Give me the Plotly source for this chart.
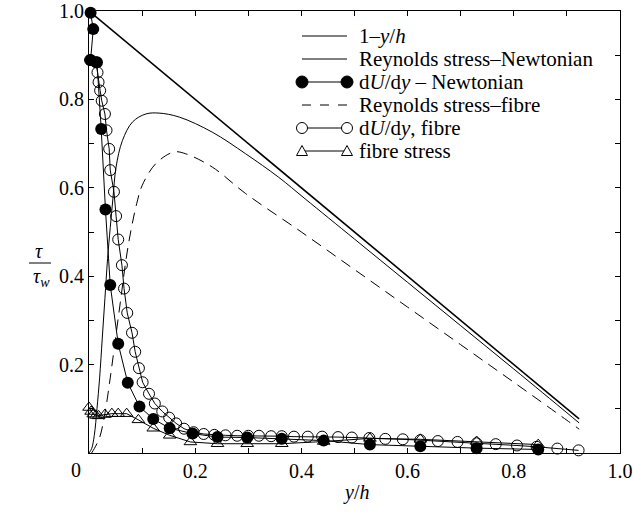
import plotly.graph_objects as go

# ---------------- data ----------------
line_x = [0.0, 0.923]
line_y = [1.0, 0.077]

rs_newt_x = [0.0, 0.005, 0.010, 0.015, 0.020, 0.025, 0.030, 0.035, 0.040, 0.045, 0.051, 0.063,
             0.082, 0.107, 0.132, 0.170, 0.232, 0.295, 0.357, 0.407, 0.500, 0.600, 0.700,
             0.800, 0.900, 0.923]
rs_newt_y = [0.0, 0.010, 0.040, 0.100, 0.170, 0.260, 0.350, 0.440, 0.510, 0.575, 0.647, 0.707,
             0.749, 0.767, 0.769, 0.760, 0.726, 0.677, 0.624, 0.575, 0.484, 0.386, 0.288,
             0.190, 0.091, 0.068]

rs_fib_x = [0.005, 0.010, 0.020, 0.030, 0.040, 0.050, 0.060, 0.070, 0.080, 0.090, 0.100, 0.126,
            0.160, 0.182, 0.232, 0.295, 0.400, 0.500, 0.600, 0.700, 0.800, 0.900, 0.923]
rs_fib_y = [0.0, 0.010, 0.035, 0.090, 0.170, 0.260, 0.350, 0.440, 0.510, 0.565, 0.605, 0.655,
            0.681, 0.677, 0.647, 0.587, 0.500, 0.415, 0.330, 0.245, 0.160, 0.074, 0.054]

dudy_newt_x = [0.003, 0.008, 0.003, 0.015, 0.023, 0.031, 0.040, 0.055, 0.073, 0.095, 0.121,
               0.152, 0.195, 0.242, 0.298, 0.363, 0.442, 0.529, 0.624, 0.730, 0.846]
dudy_newt_y = [0.996, 0.959, 0.889, 0.884, 0.733, 0.551, 0.380, 0.247, 0.159, 0.105, 0.077,
               0.056, 0.044, 0.036, 0.035, 0.032, 0.028, 0.019, 0.015, 0.011, 0.008]

dudy_fib_x = [0.002, 0.013, 0.016, 0.018, 0.021, 0.024, 0.030, 0.033, 0.038, 0.040, 0.047,
              0.051, 0.055, 0.062, 0.066, 0.072, 0.081, 0.087, 0.094, 0.101, 0.113, 0.124,
              0.138, 0.151, 0.164, 0.179, 0.197, 0.216, 0.236, 0.257, 0.279, 0.300, 0.320,
              0.343, 0.363, 0.386, 0.412, 0.439, 0.469, 0.495, 0.528, 0.558, 0.591, 0.624,
              0.657, 0.694, 0.730, 0.766, 0.806, 0.843, 0.882, 0.922]
dudy_fib_y = [0.889, 0.884, 0.861, 0.839, 0.820, 0.797, 0.767, 0.730, 0.688, 0.640, 0.591,
              0.536, 0.483, 0.425, 0.372, 0.317, 0.272, 0.229, 0.192, 0.160, 0.134, 0.112,
              0.094, 0.080, 0.067, 0.055, 0.047, 0.043, 0.041, 0.040, 0.039, 0.039, 0.039,
              0.038, 0.038, 0.037, 0.037, 0.037, 0.036, 0.035, 0.034, 0.032, 0.031, 0.029,
              0.027, 0.025, 0.022, 0.020, 0.017, 0.014, 0.010, 0.006]

fib_stress_x = [0.0, 0.004, 0.008, 0.013, 0.018, 0.030, 0.043, 0.055, 0.071, 0.093, 0.121,
                0.152, 0.191, 0.242, 0.298, 0.363, 0.442, 0.529, 0.624, 0.730, 0.846]
fib_stress_y = [0.103, 0.094, 0.088, 0.085, 0.084, 0.087, 0.089, 0.089, 0.089, 0.075, 0.056,
                0.040, 0.025, 0.021, 0.021, 0.021, 0.026, 0.033, 0.031, 0.026, 0.019]

tick_vals = [0.2, 0.4, 0.6, 0.8, 1.0]
tick_text = ["0.2", "0.4", "0.6", "0.8", "1.0"]
minor_tick_vals = [0.1, 0.3, 0.5, 0.7, 0.9]

legend_labels = ["1–<i>y</i>/<i>h</i>", "Reynolds stress–Newtonian",
                 "d<i>U</i>/d<i>y</i> – Newtonian", "Reynolds stress–fibre",
                 "d<i>U</i>/d<i>y</i>, fibre", "fibre stress"]

# ---------------- figure ----------------
FONT = "Liberation Serif"
W, H = 633, 514
ML, MR, MT, MB = 89, 13, 11, 61
PW, PH = W - ML - MR, H - MT - MB

def px(xp):
    return (xp - ML) / PW

def py(yp):
    return (H - MB - yp) / PH

fig = go.Figure()
fig.add_trace(go.Scatter(x=line_x, y=line_y, mode="lines",
                         line=dict(color="black", width=1.6)))
fig.add_trace(go.Scatter(x=rs_newt_x, y=rs_newt_y, mode="lines",
                         line=dict(color="black", width=1), line_shape="spline"))
fig.add_trace(go.Scatter(x=rs_fib_x, y=rs_fib_y, mode="lines",
                         line=dict(color="black", width=1, dash="11px,7px"), line_shape="spline"))
fig.add_trace(go.Scatter(x=fib_stress_x, y=fib_stress_y, mode="lines+markers", cliponaxis=False,
                         line=dict(color="black", width=1),
                         marker=dict(symbol="triangle-up-open", size=11, color="black",
                                     line=dict(width=1, color="black"))))
fig.add_trace(go.Scatter(x=dudy_fib_x, y=dudy_fib_y, mode="lines+markers", cliponaxis=False,
                         line=dict(color="black", width=1),
                         marker=dict(symbol="circle-open", size=11, color="black",
                                     line=dict(width=1, color="black"))))
fig.add_trace(go.Scatter(x=dudy_newt_x, y=dudy_newt_y, mode="lines+markers", cliponaxis=False,
                         line=dict(color="black", width=1),
                         marker=dict(symbol="circle", size=12, color="black")))

axis_common = dict(range=[0, 1], showgrid=False, zeroline=False, showline=True,
                   linecolor="black", linewidth=1, mirror="ticks", ticks="inside",
                   ticklen=5, tickwidth=1, tickcolor="black", tickvals=tick_vals,
                   ticktext=tick_text, ticklabeloverflow="allow", automargin=False,
                   tickfont=dict(family=FONT, size=20, color="black"),
                   minor=dict(tickvals=minor_tick_vals, ticks="inside", ticklen=5,
                              tickwidth=1, tickcolor="black", showgrid=False))
fig.update_xaxes(**axis_common)
fig.update_yaxes(**axis_common)

shapes = []
annotations = []
# custom legend
row_y = [36, 59, 82, 105, 128, 151]
lx0, lx1, tx = 302, 347, 357
kinds = ["solid", "solid", "filled", "dash", "open", "tri"]
for ry, kind, lab in zip(row_y, kinds, legend_labels):
    y = py(ry)
    shapes.append(dict(type="line", xref="paper", yref="paper", x0=px(lx0), x1=px(lx1),
                       y0=y, y1=y,
                       line=dict(color="black", width=1,
                                 dash="dash" if kind == "dash" else "solid")))
    for mx in (lx0, lx1):
        if kind == "filled":
            shapes.append(dict(type="circle", xref="paper", yref="paper",
                               xsizemode="pixel", ysizemode="pixel",
                               xanchor=px(mx), yanchor=y, x0=-6, x1=6, y0=-6, y1=6,
                               fillcolor="black", line=dict(color="black", width=1)))
        elif kind == "open":
            shapes.append(dict(type="circle", xref="paper", yref="paper",
                               xsizemode="pixel", ysizemode="pixel",
                               xanchor=px(mx), yanchor=y, x0=-5.5, x1=5.5, y0=-5.5, y1=5.5,
                               fillcolor="white", line=dict(color="black", width=1)))
        elif kind == "tri":
            shapes.append(dict(type="path", xref="paper", yref="paper",
                               xsizemode="pixel", ysizemode="pixel",
                               xanchor=px(mx), yanchor=y,
                               path="M -5.5,-4.5 L 5.5,-4.5 L 0,5.5 Z",
                               fillcolor="white", line=dict(color="black", width=1)))
    annotations.append(dict(text=lab, xref="paper", yref="paper", x=px(tx), y=y,
                            xanchor="left", yanchor="middle", showarrow=False,
                            font=dict(family=FONT, size=21, color="black")))

# corner "0"
annotations.append(dict(text="0", xref="paper", yref="paper", x=px(76), y=py(470),
                        xanchor="center", yanchor="middle", showarrow=False,
                        font=dict(family=FONT, size=20, color="black")))
# x title
annotations.append(dict(text="<i>y</i>/<i>h</i>", xref="paper", yref="paper", x=px(356),
                        y=py(493), xanchor="center", yanchor="middle", showarrow=False,
                        font=dict(family=FONT, size=20, color="black")))
# y title as fraction
annotations.append(dict(text="<i>τ</i>", xref="paper", yref="paper", x=px(39), y=py(251),
                        xanchor="center", yanchor="middle", showarrow=False,
                        font=dict(family=FONT, size=20, color="black")))
annotations.append(dict(text="<i>τ<sub>w</sub></i>", xref="paper", yref="paper", x=px(41),
                        y=py(277), xanchor="center", yanchor="middle", showarrow=False,
                        font=dict(family=FONT, size=20, color="black")))
shapes.append(dict(type="line", xref="paper", yref="paper", x0=px(29), x1=px(51),
                   y0=py(263), y1=py(263), line=dict(color="black", width=1)))

fig.update_layout(width=W, height=H, margin=dict(l=ML, r=MR, t=MT, b=MB),
                  paper_bgcolor="white", plot_bgcolor="white", showlegend=False,
                  shapes=shapes, annotations=annotations,
                  font=dict(family=FONT, size=20, color="black"))

fig.write_html("out.html")
